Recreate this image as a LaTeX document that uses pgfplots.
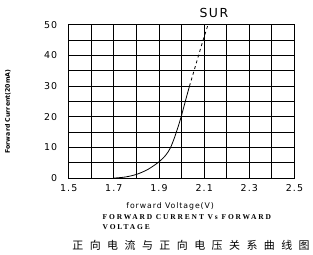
\documentclass[border=0pt]{standalone}
\usepackage{fontspec}
\setmainfont{DejaVu Sans}
\newfontfamily\widesans[LetterSpace=12]{DejaVu Sans}
\newfontfamily\spacedserif[LetterSpace=25]{Liberation Serif}
\newfontfamily\cjk{Noto Sans CJK SC}
\usepackage{pgfplots}
\pgfplotsset{compat=1.18}
\begin{document}
\begin{tikzpicture}
\begin{axis}[
  at={(0pt,0pt)}, anchor=south west,
  scale only axis, width=227pt, height=154pt,
  xmin=1.5, xmax=2.5, ymin=0, ymax=50,
  xtick={1.5,1.7,1.9,2.1,2.3,2.5},
  xticklabels={1.5,1.7,1.9,2.1,2.3,2.5},
  minor xtick={1.6,1.8,2.0,2.2,2.4},
  ytick={0,10,20,30,40,50},
  minor ytick={5,15,25,35,45},
  grid=both,
  major grid style={black, line width=0.9pt},
  minor grid style={black, line width=0.9pt},
  axis line style={black, line width=1pt},
  major tick length=0pt, minor tick length=0pt,
  tick label style={font=\widesans\fontsize{9.5}{10}\selectfont},
  /pgf/number format/assume math mode=true,
  xticklabel style={yshift=-3pt},
  yticklabel style={xshift=-8pt},
  clip=false,
]
\addplot[black, line width=0.8pt, smooth] coordinates {
 (1.7,0) (1.75,0.35) (1.8,1.2) (1.85,2.8) (1.9,5.3) (1.93,7.5) (1.95,9.8) (1.97,13.5) (1.99,18) (2.0,20.5) (2.02,26) (2.035,30)
};
\addplot[black, line width=0.8pt, dashed] coordinates {
 (2.035,30) (2.095,45) (2.117,50)
};
\end{axis}
\path (-69pt,-75pt) rectangle (244pt,179pt);
\node[font=\widesans\fontsize{12.5}{13}\selectfont] at (146pt,166pt) {SUR};
\node[rotate=90, font=\bfseries\fontsize{6.3}{7}\selectfont] at (-61pt,67pt) {Forward Current(20mA)};
\node[font=\widesans\fontsize{7.8}{8}\selectfont] at (102pt,-28pt) {forward Voltage(V)};
\node[anchor=west, inner sep=0pt, font=\spacedserif\bfseries\fontsize{7.5}{8}\selectfont] at (34pt,-39pt) {FORWARD CURRENT Vs FORWARD};
\node[anchor=west, inner sep=0pt, font=\spacedserif\bfseries\fontsize{7.5}{8}\selectfont] at (34pt,-49pt) {VOLTAGE};
\node[font=\cjk\fontsize{11}{12}\selectfont] at (123pt,-68pt) {正\hspace{6.5pt}向\hspace{6.5pt}电\hspace{6.5pt}流\hspace{6.5pt}与\hspace{6.5pt}正\hspace{6.5pt}向\hspace{6.5pt}电\hspace{6.5pt}压\hspace{6.5pt}关\hspace{6.5pt}系\hspace{6.5pt}曲\hspace{6.5pt}线\hspace{6.5pt}图};
\end{tikzpicture}
\end{document}
